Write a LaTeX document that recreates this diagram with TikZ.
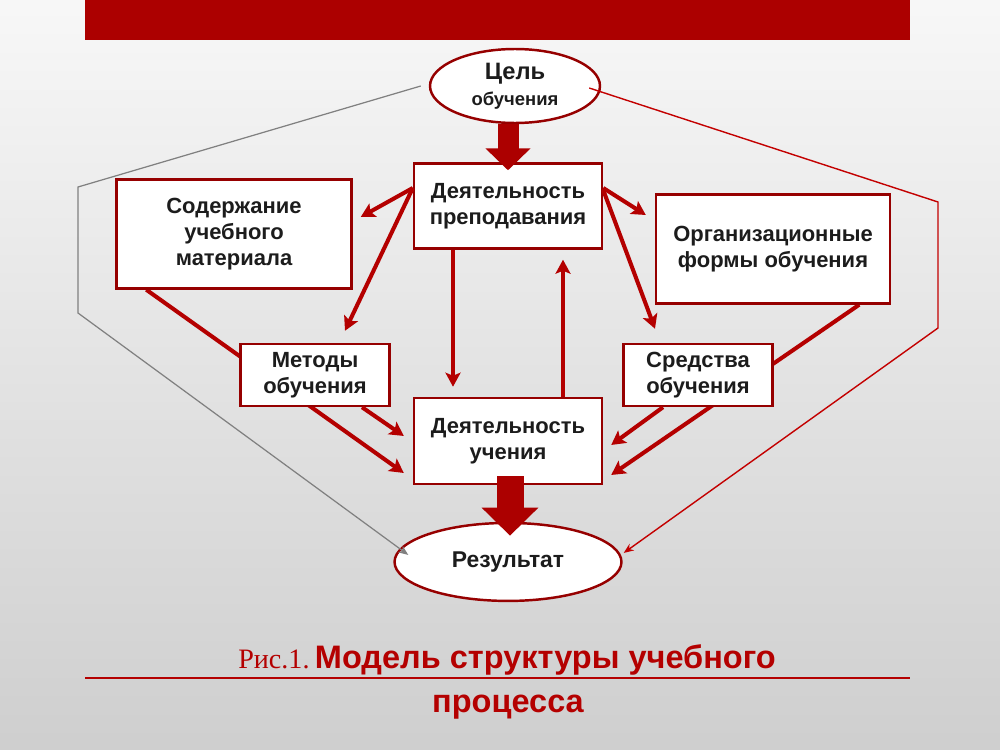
\documentclass[tikz,border=0pt]{standalone}
\usepackage{fontspec}
\setmainfont{Liberation Sans}
\newfontfamily\timesfont{Liberation Serif}
\usepackage{xcolor}
\usepackage{tikz}
\usetikzlibrary{shapes,arrows.meta,positioning,calc}

\definecolor{barred}{RGB}{172,0,0}
\definecolor{boxred}{RGB}{150,0,0}
\definecolor{arrred}{RGB}{180,0,0}
\definecolor{thinred}{RGB}{195,0,0}
\definecolor{txtgray}{RGB}{28,28,28}

\pgfdeclarelayer{back}
\pgfsetlayers{back,main}

\begin{document}
\begin{tikzpicture}[x=0.02cm, y=-0.02cm,
    block/.style={rectangle, draw=boxred, line width=1.4pt, fill=white, align=center, text=txtgray, font=\bfseries\fontsize{12.5}{15}\selectfont},
    oval/.style={ellipse, draw=boxred, line width=1.4pt, fill=white, align=center, text=txtgray, inner sep=0pt, font=\bfseries},
    link/.style={draw=arrred, line width=2.3pt, -{Stealth[length=0.28cm,width=0.3cm,inset=0.06cm]}},
    fatarrow/.style={draw=barred, line cap=butt},
    thinlink/.style={line width=0.8pt, -{Stealth[length=0.2cm,width=0.16cm]}}]
    \useasboundingbox (0,0) rectangle (1000,750);
    \begin{pgfonlayer}{back}
        \shade[top color=white!97!black, bottom color=white!81!black] (0,0) rectangle (1000,750);
    \end{pgfonlayer}
    \fill[barred] (85,0) rectangle (910,40);

    \node[oval, minimum width=3.4cm, minimum height=1.48cm] (cel) at (515,86) {{\fontsize{13.5}{16}\selectfont Цель}\\[3pt]{\fontsize{10.5}{13}\selectfont обучения}};
    \node[block, minimum width=3.76cm, minimum height=1.7cm] (prep) at (508,206) {Деятельность\\преподавания};
    \node[block, minimum width=3.76cm, minimum height=1.72cm] (uch) [below of=prep, node distance=4.7cm] {Деятельность\\учения};
    \node[oval, minimum width=4.54cm, minimum height=1.56cm, font=\bfseries\fontsize{13}{15}\selectfont] (rez) [below of=uch, node distance=2.42cm] {Результат};
    \node[block, minimum width=4.7cm, minimum height=2.18cm] (sod) at (234,234) {Содержание\\учебного\\материала};
    \node[block, minimum width=4.68cm, minimum height=2.18cm] (org) at (773,249) {Организационные\\формы обучения};
    \node[block, minimum width=2.98cm, minimum height=1.24cm] (met) at (315,375) {Методы\\обучения};
    \node[block, minimum width=2.98cm, minimum height=1.24cm] (sred) at (698,375) {Средства\\обучения};

    % fat arrows
    \draw[fatarrow, line width=0.42cm, -{Triangle[length=0.44cm,width=0.88cm]}] (prep.north |- cel.south) -- ($(prep.north)+(0,8)$);
    \draw[fatarrow, line width=0.54cm, -{Triangle[length=0.56cm,width=1.1cm]}] ($(uch.south)+(2,-9)$) -- ($(rez.north)+(2,14)$);

    % from teaching
    \draw[link] ($(prep.west)+(0,-18)$) -- ($(sod.east)+(8,-17)$);
    \draw[link] ($(prep.west)+(0,-18)$) -- ($(met.north)+(30,-12)$);
    \draw[link] ($(prep.east)+(0,-18)$) -- ($(org.west)+(-9,-34)$);
    \draw[link] ($(prep.east)+(0,-16)$) -- ($(sred.north)+(-43,-14)$);
    \draw[link] ($(prep.south)+(-55,0)$) -- ($(uch.north)+(-55,-10)$);
    \draw[link] ($(uch.north)+(55,0)$) -- ($(prep.south)+(55,10)$);

    % into learning
    \draw[link] ($(met.south)+(47,0)$) -- ($(uch.west)+(-9,-5)$);
    \draw[link] ($(sred.south)+(-35,0)$) -- ($(uch.east)+(8,4)$);
    \begin{pgfonlayer}{back}
        \draw[link] ($(sod.south west)+(31,0)$) -- ($(uch.west)+(-9,32)$);
        \draw[link] ($(org.south east)+(-32,0)$) -- ($(uch.east)+(8,34)$);
    \end{pgfonlayer}

    % outer lines
    \coordinate (gl1) at (78,187);
    \coordinate (gl2) at (78,313);
    \coordinate (rl1) at (938,202);
    \coordinate (rl2) at (938,328);
    \draw[thinlink, draw=gray, line width=0.7pt] ($(cel.west)+(-8,0)$) -- (gl1) -- (gl2) -- ($(rez.west)+(15,-7)$);
    \draw[thinlink, draw=thinred] ($(cel.east)+(-12,2)$) -- (rl1) -- (rl2) -- ($(rez.east)+(1,-9)$);

    % caption
    \draw[arrred, line width=1.6pt] (85,678) -- (910,678);
    \node[anchor=base, text=arrred, font=\bfseries\fontsize{18.5}{22}\selectfont] (capa) at (507,668) {{\timesfont\mdseries\fontsize{16}{18}\selectfont Рис.1.}\,Модель структуры учебного};
    \node[anchor=base, text=arrred, font=\bfseries\fontsize{18.5}{22}\selectfont] (capb) at (508,712) {процесса};
\end{tikzpicture}
\end{document}
